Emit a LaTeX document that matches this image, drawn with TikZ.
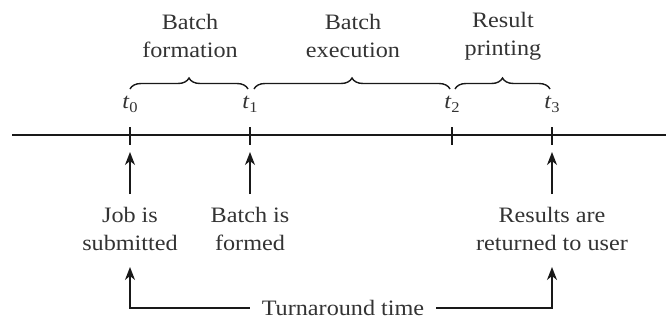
\documentclass[tikz,border=0pt]{standalone}
\usepackage{fontspec}
\setmainfont{Liberation Serif}[FakeStretch=1.1]
\usetikzlibrary{arrows.meta,decorations.pathreplacing}
\begin{document}
\begin{tikzpicture}[x=1pt,y=1pt,
  ln/.style={line width=1.4pt,draw=black!90},
  arr/.style={ln,-{Stealth[length=13pt,width=10pt,inset=4pt]}},
  brc/.style={ln,decorate,decoration={brace,amplitude=11pt}},
  lbl/.style={align=center,font=\fontsize{22}{28.5}\selectfont,text=black!80,inner sep=2pt,outer sep=0pt},
  tl/.style={font=\fontsize{22}{24}\selectfont,text=black!80,inner sep=1pt}]
\useasboundingbox (0,0) rectangle (666,-322);
% axis
\coordinate (L) at (12,-135);
\coordinate (R) at (666,-135);
\draw[ln] (L) -- (R);
\foreach \n/\x in {0/130,1/250,2/452,3/552}{
  \coordinate (t\n) at (\x,-135);
  \draw[ln] (\x,-127) -- (\x,-145);
  \node[tl] (lab\n) at (\x,-104) {\textit{t}\raisebox{-4pt}{\fontsize{15}{15}\selectfont\n}};
}
% braces
\coordinate (b1s) at (130,-89); \coordinate (b1e) at (248,-89);
\coordinate (b2s) at (254,-89); \coordinate (b2e) at (450,-89);
\coordinate (b3s) at (455,-89); \coordinate (b3e) at (550,-89);
\draw[brc] (b1s) -- (b1e);
\draw[brc] (b2s) -- (b2e);
\draw[brc] (b3s) -- (b3e);
\node[lbl] (bf) at (190,-36) {Batch\\formation};
\node[lbl] (be) at (353,-36) {Batch\\execution};
\node[lbl] (rp) at (503,-36) {Result\\printing};
% lower labels
\node[lbl] (job) at (130,-229) {Job is\\submitted};
\node[lbl] (bif) at (250,-229) {Batch is\\formed};
\node[lbl] (res) at (552,-229) {Results are\\returned to user};
\coordinate (a0) at (130,-152);
\coordinate (a1) at (250,-152);
\coordinate (a3) at (552,-152);
\draw[arr,shorten <=11pt] (job.north) -- (a0);
\draw[arr,shorten <=11pt] (bif.north) -- (a1);
\draw[arr,shorten <=11pt] (res.north) -- (a3);
% turnaround
\node[lbl,inner xsep=12pt] (tt) at (343,-308) {Turnaround time};
\draw[arr,shorten >=14pt] (tt.west) -| (job.south);
\draw[arr,shorten >=14pt] (tt.east) -| (res.south);
\end{tikzpicture}
\end{document}
